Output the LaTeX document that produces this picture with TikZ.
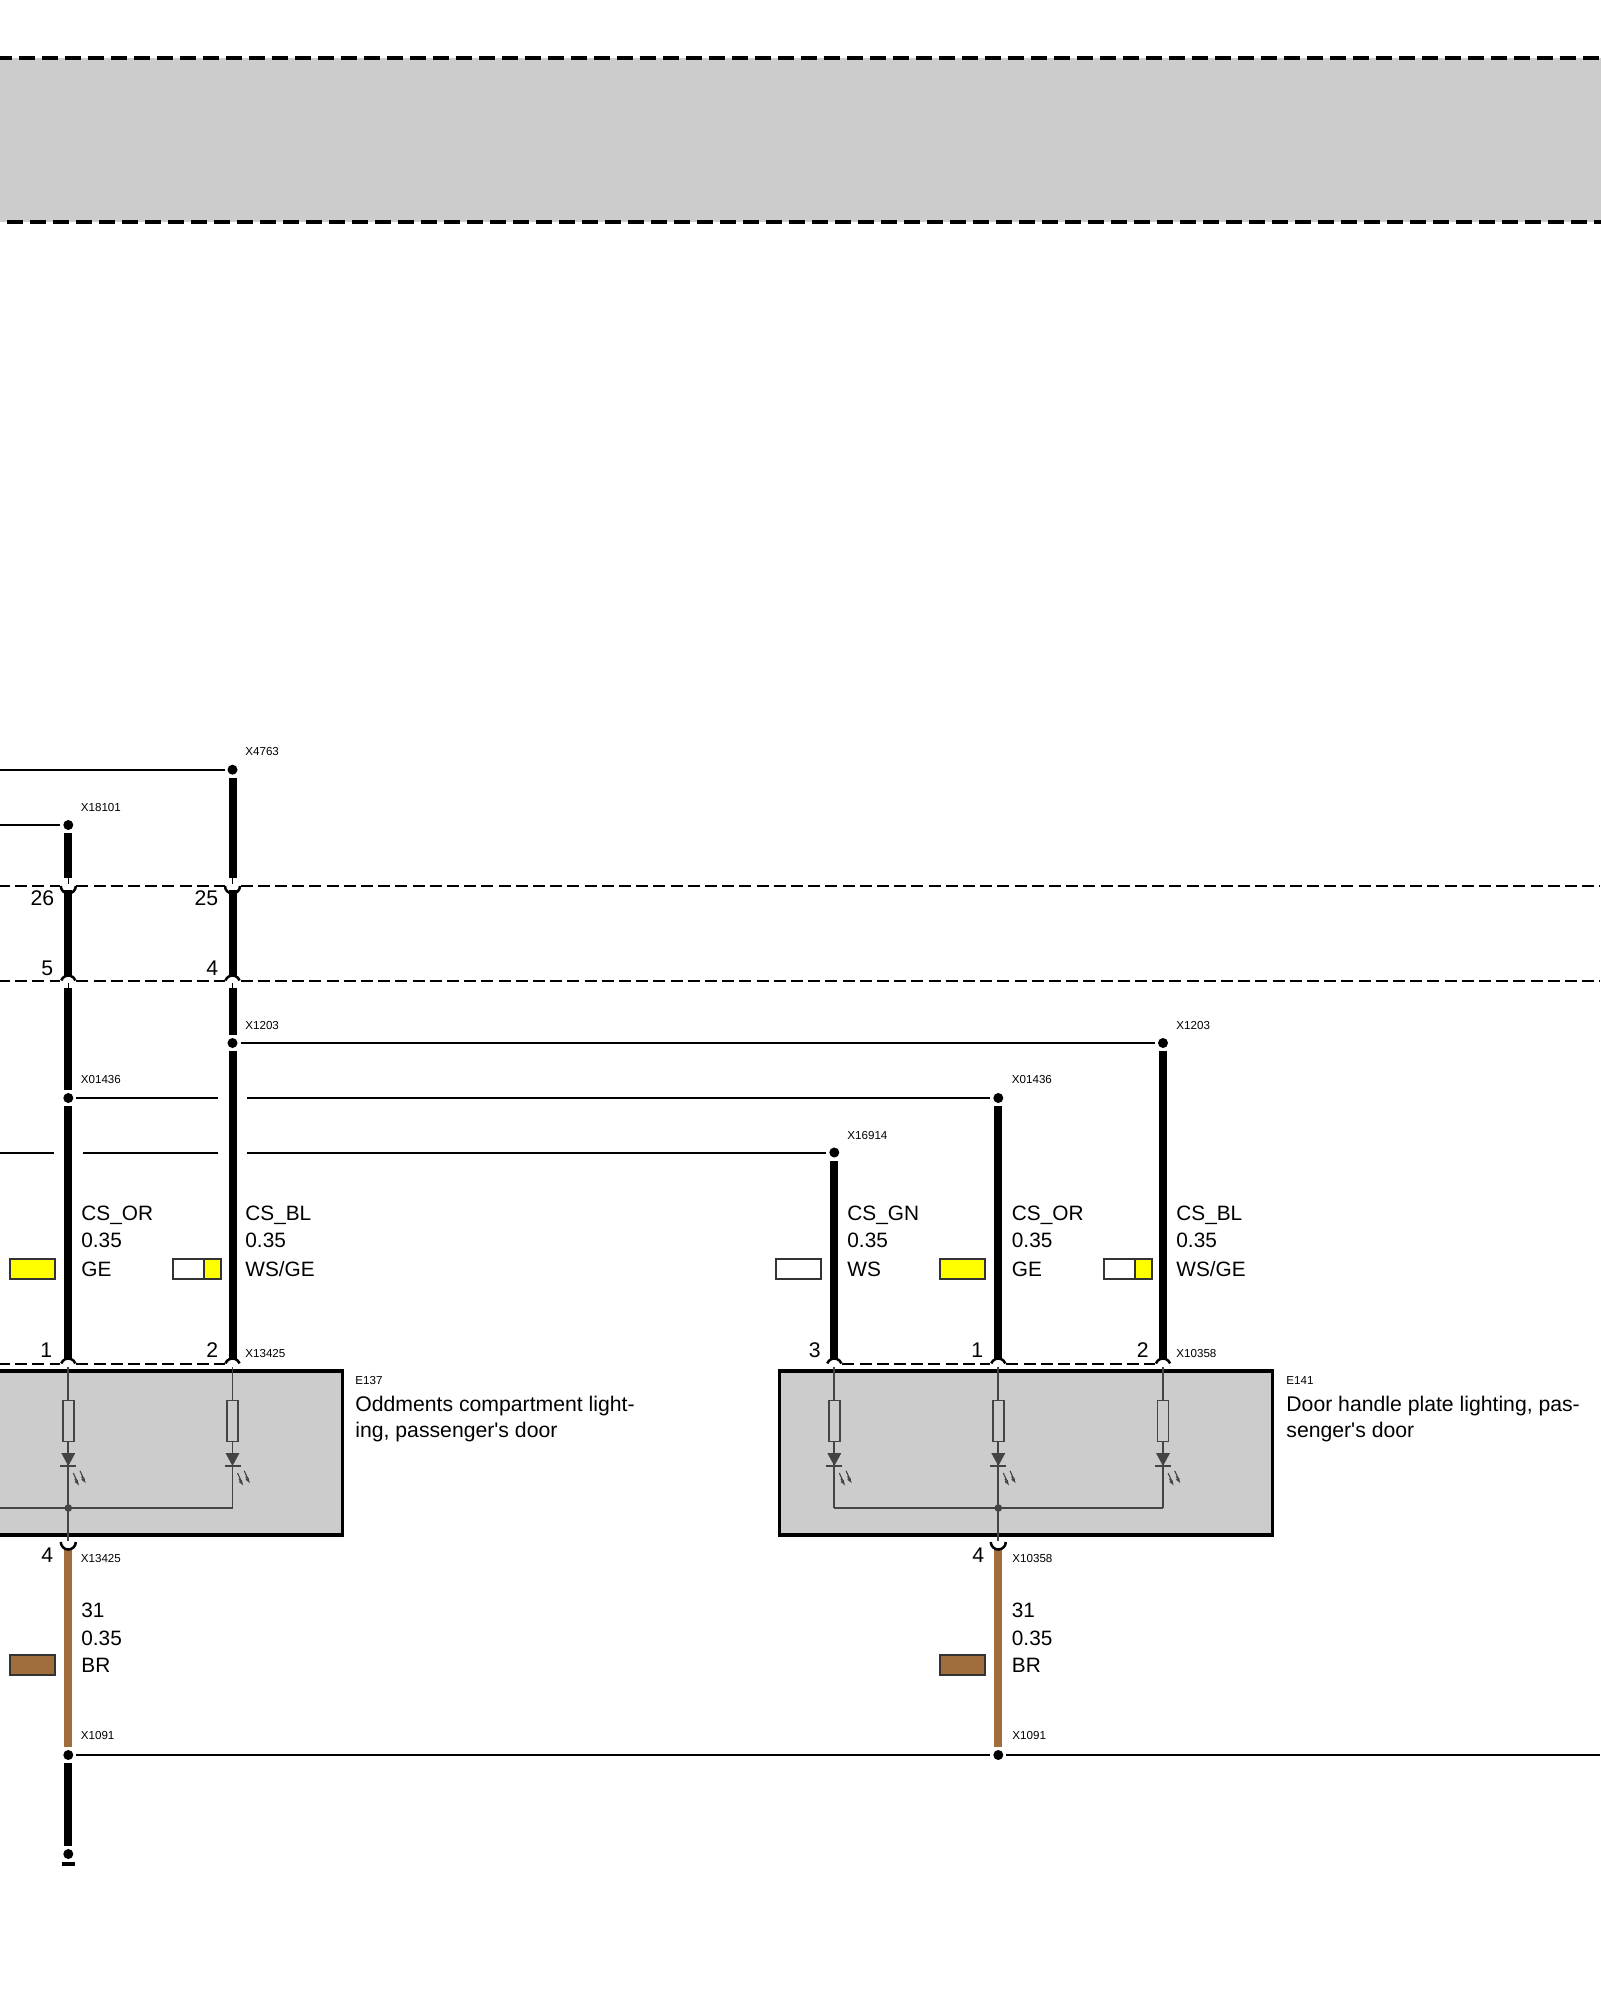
\documentclass[tikz,border=0pt]{standalone}
\usepackage{fontspec}
\setmainfont{Liberation Sans}
\usetikzlibrary{arrows.meta, positioning}
\definecolor{panelgray}{HTML}{CCCCCC}
\definecolor{innergray}{HTML}{444444}
\definecolor{wirebrown}{HTML}{A06E3C}
\definecolor{wireyellow}{HTML}{FFFF00}

\begin{document}
\begin{tikzpicture}[
  x=.5pt, y=-.5pt,
  splice/.style={circle,fill=black,inner sep=0pt,minimum size=5pt,outer sep=1.5pt},
  plug/.style={circle,inner sep=0pt,minimum size=8pt,outer sep=0pt},
  loom/.style={line width=4pt,draw=black},
  halo/.style={preaction={draw=white,line width=14.5pt}},
  thinline/.style={line width=1pt,draw=black},
  bandline/.style={line width=1.7pt,dash pattern=on 8pt off 3.5pt},
  rowline/.style={line width=1pt,dash pattern=on 6pt off 2.6pt},
  contact/.style={line width=1.25pt,draw=black},
  stub/.style={line width=.5pt,draw=black},
  inner/.style={line width=.9pt,draw=innergray},
  part/.style={line width=1.7pt,draw=black,fill=panelgray},
  resistor/.style={draw=innergray,line width=.9pt,fill=panelgray,inner sep=0pt,minimum width=5.5pt,minimum height=20.5pt,outer sep=0pt},
  swatch/.style={draw=black!80,line width=1pt,inner sep=0pt,minimum width=22.5pt,minimum height=10pt,outer sep=0pt},
  big/.style={font=\fontsize{10.4}{13}\selectfont,inner sep=0pt,anchor=base west},
  para/.style={font=\fontsize{10.6}{13}\selectfont,inner sep=0pt,anchor=base west},
  num/.style={font=\fontsize{10.6}{13}\selectfont,inner sep=0pt,anchor=base east},
  tag/.style={font=\fontsize{5.8}{7}\selectfont,inner sep=0pt,anchor=base west}]

  \useasboundingbox (0,0) rectangle (1600,2000);

  \fill[panelgray] (-20,58) rectangle (1620,222);
  \draw[bandline] (-4.3,58) -- (1620,58);
  \draw[bandline] (-15.7,222) -- (1620,222);

  \draw[part] (-20,1371) rectangle (342.7,1535);
  \draw[part] (779.5,1371) rectangle (1272.7,1535);

  \node[splice] (x18101) at (68.3,825) {};
  \node[splice] (x4763) at (232.5,769.7) {};
  \node[splice] (x01436a) at (68.3,1098) {};
  \node[splice] (x1203a) at (232.5,1043) {};
  \node[splice] (x16914) at (834.3,1152.5) {};
  \node[splice] (x01436b) at (998.3,1098) {};
  \node[splice] (x1203b) at (1163,1043) {};
  \node[splice] (x1091a) at (68.3,1755) {};
  \node[splice] (x1091b) at (998.3,1755) {};
  \node[splice] (gnd) at (68.3,1854) {};

  \foreach \n/\x/\y in {upa/68.3/886, upb/232.5/886, mida/68.3/981, midb/232.5/981,
      cna/68.3/1364, cnb/232.5/1364, cnc/834.3/1364, cnd/998.3/1364, cne/1163/1364,
      lowa/68.3/1542, lowd/998.3/1542}
    \node[plug] (\n) at (\x,\y) {};

  \coordinate (lefta) at (0,769.7);
  \coordinate (leftb) at (0,825);
  \coordinate (leftc) at (0,1152.5);
  \coordinate (rightd) at (1600,1755);

  \draw[rowline] (-2,886) -- (upa);
  \draw[rowline] (upa) -- (upb);
  \draw[rowline] (upb) -- (1600,886);
  \draw[rowline] (-2,981) -- (mida);
  \draw[rowline] (mida) -- (midb);
  \draw[rowline] (midb) -- (1600,981);
  \draw[rowline] (-2,1364) -- (cna);
  \draw[rowline] (cna) -- (cnb);
  \draw[rowline] (cnc) -- (cnd);
  \draw[rowline] (cnd) -- (cne);

  \draw[thinline] (lefta) -- (x4763);
  \draw[thinline] (leftb) -- (x18101);
  \draw[thinline] (leftc) -- (x16914);
  \draw[thinline] (x1203a) -- (x1203b);
  \draw[thinline] (x01436a) -- (x01436b);
  \draw[thinline] (x1091a) -- (x1091b);
  \draw[thinline] (x1091b) -- (rightd);

  \draw[loom] (x18101) -- (upa.north);
  \draw[loom] (x4763) -- (upb.north);
  \draw[loom] ([yshift=-2pt]upa.center) -- ([yshift=-1.5pt]mida.north);
  \draw[loom] ([yshift=-2pt]upb.center) -- ([yshift=-1.5pt]midb.north);
  \draw[loom] ([yshift=-3.5pt]mida.center) -- (x01436a);
  \draw[loom] ([yshift=-3.5pt]midb.center) -- (x1203a);
  \draw[loom,halo] (x01436a) -- ([yshift=-1.5pt]cna.north);
  \draw[loom,halo] (x1203a) -- ([yshift=-1.5pt]cnb.north);
  \draw[loom] (x16914) -- ([yshift=-1.5pt]cnc.north);
  \draw[loom] (x01436b) -- ([yshift=-1.5pt]cnd.north);
  \draw[loom] (x1203b) -- ([yshift=-1.5pt]cne.north);
  \draw[loom,draw=wirebrown] ([yshift=-3.5pt]lowa.center) -- (x1091a);
  \draw[loom,draw=wirebrown] ([yshift=-3.5pt]lowd.center) -- (x1091b);
  \draw[loom] (x1091a) -- (gnd);
  \draw[line width=1.75pt] (61.8,1864) -- (74.8,1864);

  \foreach \p in {upa,upb} {
    \draw[stub] (\p.north) -- ([yshift=1pt]\p.center);
    \draw[contact] (\p.center) ++(180:3.75pt) arc[start angle=180,end angle=360,radius=3.75pt];
  }
  \foreach \p in {mida,midb} {
    \draw[stub] ([yshift=-1pt]\p.center) -- ([yshift=-3.5pt]\p.center);
    \draw[contact] ([yshift=-1pt]\p.center) ++(160:3.75pt) arc[start angle=160,end angle=20,radius=3.75pt];
  }
  \foreach \p in {cna,cnb,cnc,cnd,cne}
    \draw[contact] ([yshift=-1pt]\p.center) ++(160:3.75pt) arc[start angle=160,end angle=20,radius=3.75pt];
  \foreach \p in {lowa,lowd}
    \draw[contact] (\p.center) ++(180:3.75pt) arc[start angle=180,end angle=360,radius=3.75pt];

  \foreach \n/\x in {a/68.3,b/232.5,c/834.3,d/998.3,e/1163} {
    \node[resistor] (res\n) at (\x,1421) {};
    \coordinate (bus\n) at (\x,1508);
    \draw[inner] ([yshift=-1.5pt]cn\n.center) -- (res\n.north);
    \draw[inner] (res\n.south) -- (bus\n);
    \fill[innergray] (\x-7,1453) -- (\x+7,1453) -- (\x,1466) -- cycle;
    \draw[inner] (\x-8,1466) -- (\x+8,1466);
    \foreach \d in {0,6.7}
      \draw[innergray,line width=.55pt,-{Latex[length=3pt,width=2pt]}]
        (\x+5+\d,1473-\d/3) -- (\x+8+\d,1479.5-\d/3) -- (\x+7+\d,1479.5-\d/3) -- (\x+11+\d,1486-\d/3);
  }
  \draw[inner] (-2,1508) -- (busa) -- (busb);
  \draw[inner] (busc) -- (busd) -- (buse);
  \draw[inner] (busa) -- ([yshift=.75pt]lowa.center);
  \draw[inner] (busd) -- ([yshift=.75pt]lowd.center);
  \fill[innergray] (busa) circle[radius=1.9pt];
  \fill[innergray] (busd) circle[radius=1.9pt];

  \node[swatch,fill=wireyellow] (swa) at (32.5,1269) {};
  \node[swatch,fill=white,minimum width=15.5pt] (swb) at (188.5,1269) {};
  \node[swatch,fill=wireyellow,minimum width=8.5pt,right=0pt of swb] (swby) {};
  \node[swatch,fill=white] (swc) at (798.8,1269) {};
  \node[swatch,fill=wireyellow] (swd) at (962.8,1269) {};
  \node[swatch,fill=white,minimum width=15.5pt] (swe) at (1119.5,1269) {};
  \node[swatch,fill=wireyellow,minimum width=8.5pt,right=0pt of swe] (swey) {};
  \node[swatch,fill=wirebrown] (swf) at (32.5,1665) {};
  \node[swatch,fill=wirebrown] (swg) at (962.8,1665) {};

  \foreach \n/\x/\a/\c in {a/81/CS\_OR/GE, b/245/CS\_BL/{WS/GE}, c/847/CS\_GN/WS,
      d/1011.5/CS\_OR/GE, e/1176/CS\_BL/{WS/GE}} {
    \node[big] (sig\n) at (\x,1220) {\a};
    \node[big] (size\n) at (\x,1247) {0.35};
    \node[big] (col\n) at (\x,1276) {\c};
  }
  \foreach \n/\x in {a/81,d/1011.5} {
    \node[big] (gsig\n) at (\x,1617) {31};
    \node[big] (gsize\n) at (\x,1645) {0.35};
    \node[big] (gcol\n) at (\x,1672) {BR};
  }

  \foreach \n/\x/\y/\t in {na/54.5/905/26, nb/218.5/905/25, nc/53.5/975/5, nd/218.5/975/4,
      ne/52.5/1357/1, nf/218.5/1357/2, ng/821/1357/3, nh/983.5/1357/1, ni/1149/1357/2,
      nj/53.5/1562/4, nk/984.5/1562/4}
    \node[num] (\n) at (\x,\y) {\t};

  \foreach \n/\x/\y/\t in {ta/245/755/X4763, tb/80.5/811/X18101, tc/245/1029/X1203,
      td/80.5/1083/X01436, te/847/1139/X16914, tf/1011.5/1083/X01436, tg/1176/1029/X1203,
      th/245/1357/X13425, ti/1176/1357/X10358, tj/80.5/1562/X13425, tk/1012/1562/X10358,
      tl/80.5/1739/X1091, tm/1012/1739/X1091, tn/355/1384/E137, to/1286/1384/E141}
    \node[tag] (\n) at (\x,\y) {\t};

  \node[para] (oddone) at (355,1411) {Oddments compartment light-};
  \node[para] (oddtwo) at (355,1437) {ing, passenger\textquotesingle s door};
  \node[para] (doorone) at (1286,1411) {Door handle plate lighting, pas-};
  \node[para] (doortwo) at (1286,1437) {senger\textquotesingle s door};
\end{tikzpicture}
\end{document}
